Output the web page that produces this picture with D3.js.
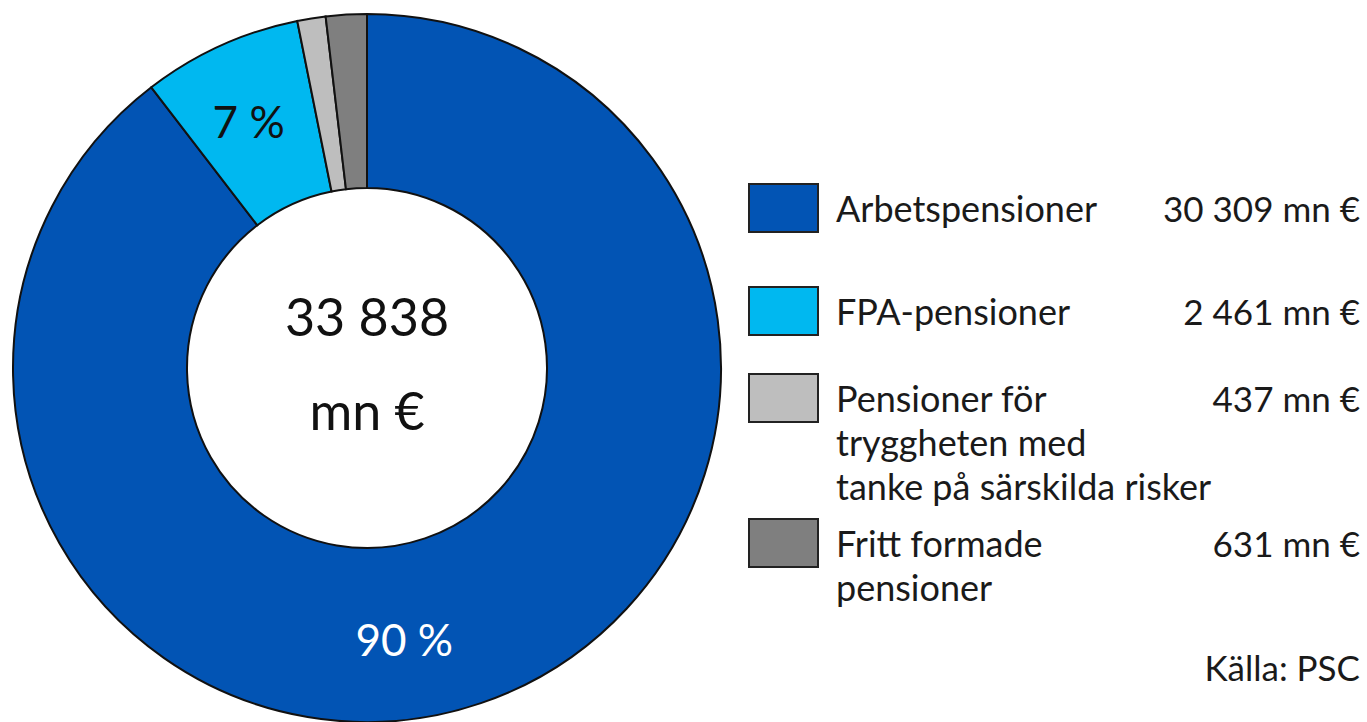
<!DOCTYPE html>
<html><head><meta charset="utf-8">
<script src="https://cdn.jsdelivr.net/npm/d3@7"></script>
<style>body{margin:0;background:#fff}svg{display:block}text{font-family:Lato,"Open Sans",sans-serif}</style>
</head><body>
<script>
const categories = ["Arbetspensioner","FPA-pensioner","Pensioner för trygghet med tanke på särskilda risker","Fritt formade pensioner"];
const labelLines = [["Arbetspensioner"],["FPA-pensioner"],["Pensioner för","tryggheten med","tanke på särskilda risker"],["Fritt formade","pensioner"]];
const values = [30309, 2461, 437, 631];
const valueLabels = ["30 309 mn €","2 461 mn €","437 mn €","631 mn €"];
const sliceLabels = ["90 %","7 %","",""];
const colors = ["#0254B4","#00B8F0","#BEBEBE","#7F7F7F"];
const totalLabel = ["33 838","mn €"];
const source = "Källa: PSC";

const W=1367,H=722;
const svg=d3.select("body").append("svg").attr("width",W).attr("height",H);
const cx=367, cy=368, R=354, r0=180;
const pie=d3.pie().sort(null).value(d=>d);
const arcs=pie(values);
const arc=d3.arc().innerRadius(r0).outerRadius(R);
const g=svg.append("g").attr("transform",`translate(${cx},${cy})`);
g.selectAll("path").data(arcs).join("path").attr("d",arc)
 .attr("fill",(d,i)=>colors[i]).attr("stroke","#111").attr("stroke-width",2);
// slice labels (the large slice's label sits near the bottom, as in the source)
const lr=274;
const lblAngle=(d,i)=> i===0 ? d.startAngle + (d.endAngle-d.startAngle)*0.534 : (d.startAngle+d.endAngle)/2 - 0.02;
g.selectAll("text.sl").data(arcs).join("text").attr("class","sl")
 .attr("x",(d,i)=>lr*Math.sin(lblAngle(d,i)))
 .attr("y",(d,i)=>-lr*Math.cos(lblAngle(d,i)))
 .attr("text-anchor","middle").attr("dominant-baseline","central")
 .attr("font-size",44).attr("fill",(d,i)=>i===0?"#fff":"#111")
 .text((d,i)=>sliceLabels[i]);
// center
g.append("text").attr("text-anchor","middle").attr("y",-52).attr("dominant-baseline","central").attr("font-size",52).attr("fill","#111").text(totalLabel[0]);
g.append("text").attr("text-anchor","middle").attr("y",42).attr("dominant-baseline","central").attr("font-size",52).attr("fill","#111").text(totalLabel[1]);
// legend
const boxY=[184,287,374,519];
const lg=svg.append("g");
categories.forEach((c,i)=>{
  lg.append("rect").attr("x",749).attr("y",boxY[i]).attr("width",69).attr("height",48)
    .attr("fill",colors[i]).attr("stroke","#222").attr("stroke-width",2);
  const t=lg.append("text").attr("x",836).attr("y",boxY[i]+38).attr("font-size",36).attr("fill","#1a1a1a");
  labelLines[i].forEach((l,j)=>t.append("tspan").attr("x",836).attr("dy",j===0?0:44).text(l));
  lg.append("text").attr("x",1360).attr("y",boxY[i]+38).attr("text-anchor","end").attr("font-size",35).attr("fill","#1a1a1a").text(valueLabels[i]);
});
svg.append("text").attr("x",1360).attr("y",681).attr("text-anchor","end").attr("font-size",35).attr("fill","#1a1a1a").text(source);
</script>
</body></html>
